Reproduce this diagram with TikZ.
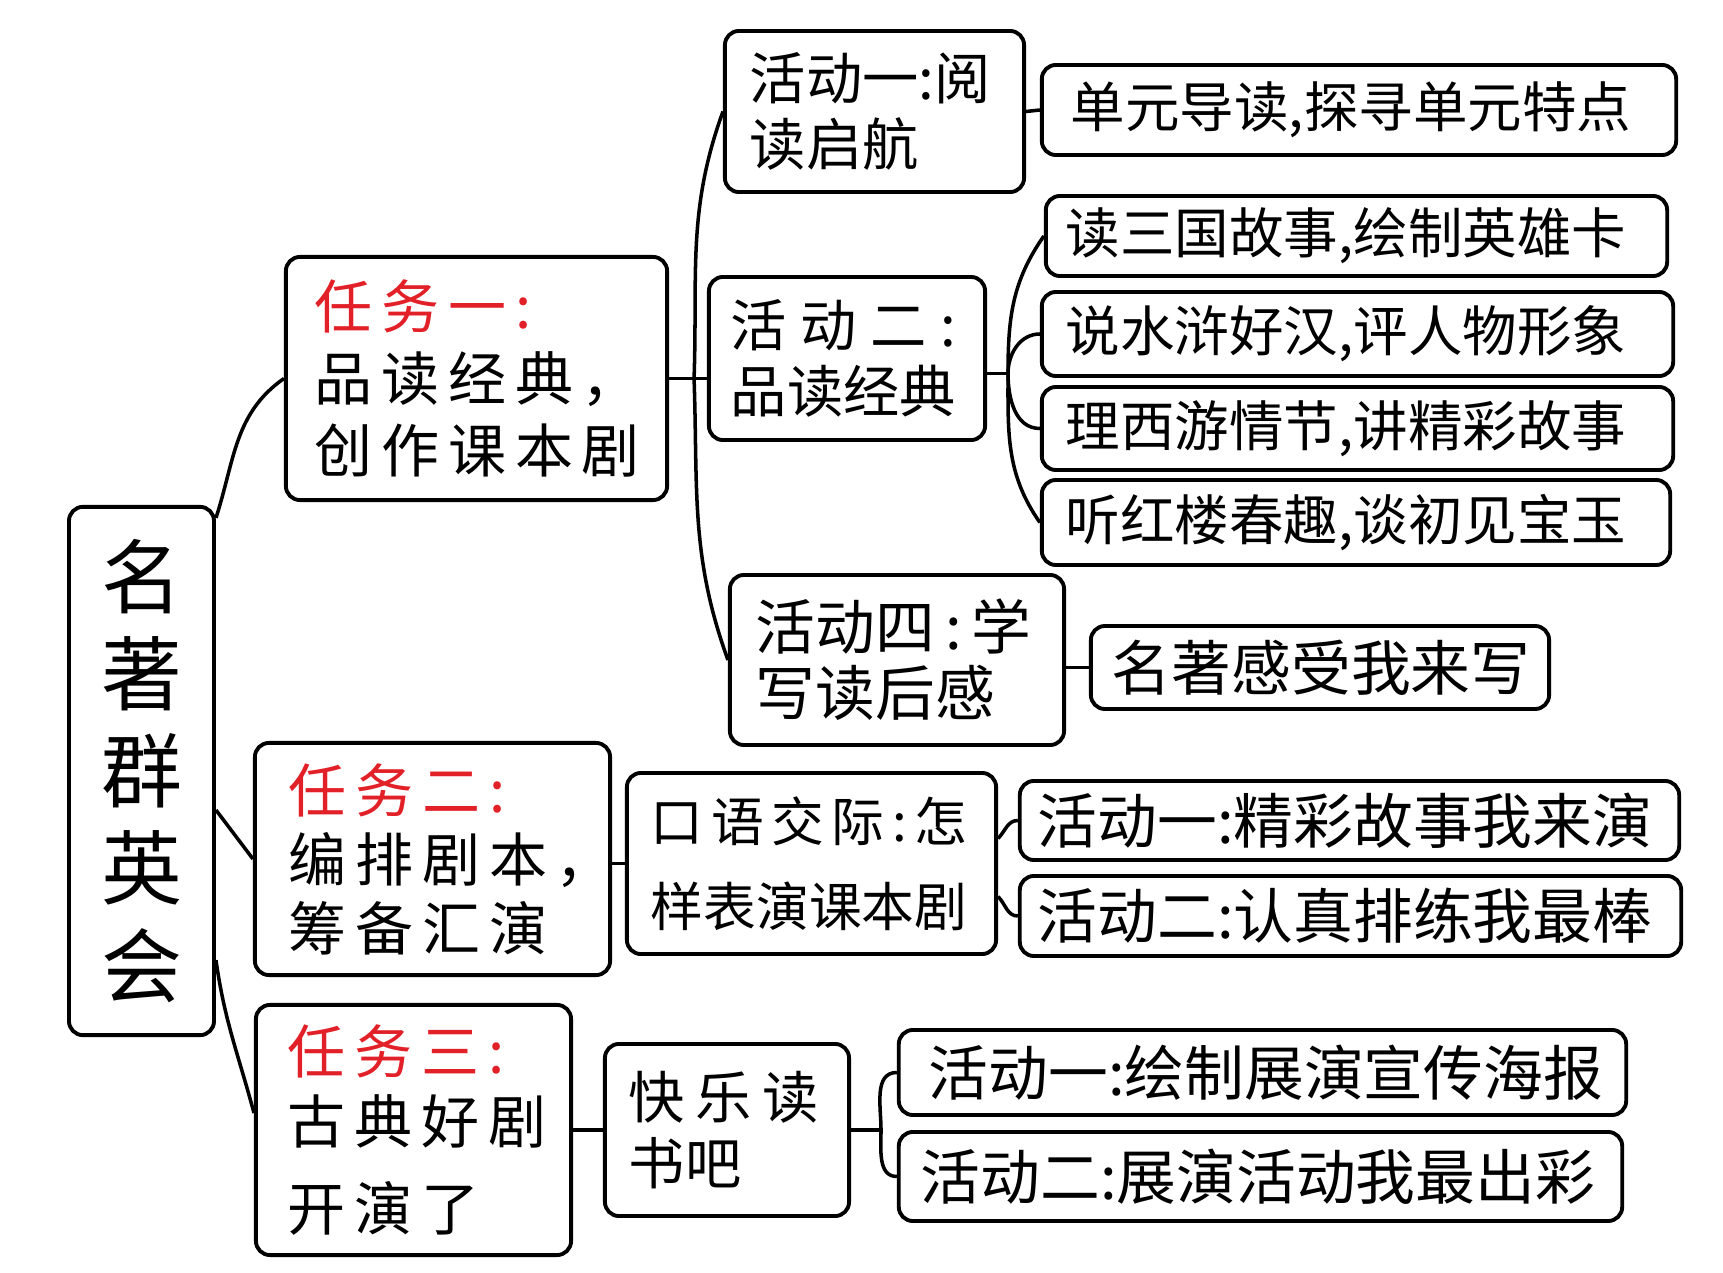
\documentclass[tikz,border=0pt]{standalone}
\usepackage{fontspec}
\setmainfont{Noto Sans CJK SC}
\newfontfamily\taskfont[LetterSpace=15]{Noto Sans CJK SC}
\definecolor{tred}{RGB}{226,32,40}
\begin{document}
\begin{tikzpicture}[x=0.01cm,y=-0.01cm,
  box/.style={draw, line width=1.1pt, rounded corners=4pt, align=left, inner ysep=0pt},
  con/.style={line width=1pt},
  tfont/.style={font=\taskfont\fontsize{16.5}{20.5}\selectfont},
  leaf/.style={font=\fontsize{15.5}{18}\selectfont},
  leafb/.style={font=\fontsize{17}{20}\selectfont}]
\path[use as bounding box] (0,0) rectangle (1723,1273);

% root
\node[box, align=center, minimum width=1.45cm, minimum height=5.28cm, text width=1.2cm, inner xsep=0.12cm,
  font=\fontsize{23}{27.6}\selectfont] (root) at (141.5,771) {名\\著\\群\\英\\会};

% tasks
\node[box, tfont, minimum width=3.81cm, minimum height=2.43cm, text width=3.23cm, inner xsep=0.29cm] (task1) at (476.5,378.5)
  {{\color{tred}任务一:}\\品读经典，\\创作课本剧};
\node[box, font=\taskfont\fontsize{16.5}{19.6}\selectfont, minimum width=3.55cm, minimum height=2.32cm, text width=2.87cm, inner xsep=0.34cm] (task2) at (432.5,859)
  {{\color{tred}任务二:}\\编排剧本，\\筹备汇演};
\node[box, font=\taskfont\fontsize{16.5}{19.9}\selectfont, minimum width=3.15cm, minimum height=2.50cm, text width=2.51cm, inner xsep=0.32cm] (task3) at (413.5,1130)
  {{\color{tred}任务三:}\\古典好剧\\[4.8pt]开演了};

% activities of task 1
\node[box, font=\fontsize{16}{18.8}\selectfont, minimum width=2.99cm, minimum height=1.61cm, text width=2.49cm, inner xsep=0.25cm] (act1) at (874.5,111.5)
  {活动一:阅\\读启航};
\node[box, font=\fontsize{16}{18.8}\selectfont, minimum width=2.76cm, minimum height=1.63cm, text width=2.32cm, inner xsep=0.22cm] (act2) at (847,358.5)
  {\makebox[2.25cm][s]{活\hfil 动\hfil 二\hfil :}\\品读经典};
\node[box, font=\fontsize{17}{18.8}\selectfont, minimum width=3.34cm, minimum height=1.70cm, text width=2.82cm, inner xsep=0.26cm] (act4) at (897,660)
  {活动四\,:\,学\\写读后感};

% leaves of task 1
\node[box, leaf, minimum width=6.34cm, minimum height=0.90cm, text width=5.76cm, inner xsep=0.29cm] (la) at (1359,110) {单元导读,探寻单元特点};
\node[box, leaf, minimum width=6.21cm, minimum height=0.80cm, text width=5.81cm, inner xsep=0.20cm] (lb) at (1356.5,236) {读三国故事,绘制英雄卡};
\node[box, leaf, minimum width=6.31cm, minimum height=0.84cm, text width=5.83cm, inner xsep=0.24cm] (lc) at (1357.5,334) {说水浒好汉,评人物形象};
\node[box, leaf, minimum width=6.31cm, minimum height=0.83cm, text width=5.83cm, inner xsep=0.24cm] (ld) at (1357.5,428.5) {理西游情节,讲精彩故事};
\node[box, leaf, minimum width=6.28cm, minimum height=0.85cm, text width=5.80cm, inner xsep=0.24cm] (le) at (1356,522.5) {听红楼春趣,谈初见宝玉};
\node[box, leafb, minimum width=4.58cm, minimum height=0.83cm, text width=4.16cm, inner xsep=0.21cm] (lf) at (1320,667.5) {名著感受我来写};

% task 2
\node[box, font=\fontsize{15}{24.2}\selectfont, minimum width=3.69cm, minimum height=1.81cm, text width=3.21cm, inner xsep=0.24cm] (oral) at (811.5,863.5)
  {\makebox[3.16cm][s]{口\hfil 语\hfil 交\hfil 际\hfil :\hfil 怎}\\样表演课本剧};
\node[box, leafb, minimum width=6.59cm, minimum height=0.79cm, text width=6.23cm, inner xsep=0.18cm] (ga) at (1349.5,820.5) {活动一:精彩故事我来演};
\node[box, leafb, minimum width=6.61cm, minimum height=0.80cm, text width=6.25cm, inner xsep=0.18cm] (gb) at (1350.5,916) {活动二:认真排练我最棒};

% task 3
\node[box, font=\fontsize{16}{18.8}\selectfont, minimum width=2.44cm, minimum height=1.72cm, text width=1.96cm, inner xsep=0.24cm] (book) at (727,1130)
  {\makebox[1.90cm][s]{快\hfil 乐\hfil 读}\\书吧};
\node[box, leafb, minimum width=7.27cm, minimum height=0.85cm, text width=6.67cm, inner xsep=0.30cm] (ha) at (1262.5,1072.5) {活动一:绘制展演宣传海报};
\node[box, leafb, minimum width=7.23cm, minimum height=0.89cm, text width=6.79cm, inner xsep=0.22cm] (hb) at (1260.5,1176.5) {活动二:展演活动我最出彩};

% connection points
\coordinate (r1) at ([yshift=2.53cm]root.east);
\coordinate (r2) at ([yshift=-0.39cm]root.east);
\coordinate (r3) at ([yshift=-1.89cm]root.east);
\coordinate (t3) at ([yshift=0.17cm]task3.west);
\coordinate (j1) at ([xshift=0.25cm]task1.east);
\coordinate (a2) at ([yshift=-0.15cm]act2.east);
\coordinate (j2) at ([xshift=0.21cm]a2);
\coordinate (o1) at ([yshift=0.25cm]oral.east);
\coordinate (o2) at ([yshift=-0.33cm]oral.east);
\coordinate (j3) at ([xshift=0.30cm]book.east);

% connectors
\draw[con] (r1) to[out=72,in=215] (task1.west);
\draw[con] (r2) -- (task2.west);
\draw[con] (r3) to[out=-82,in=105] (t3);

\draw[con] (task1.east) -- (act2.west |- task1.east);
\draw[con] (j1) to[out=88,in=-110] (act1.west);
\draw[con] (j1) to[out=-88,in=110] (act4.west);

\draw[con] (act1.east) -- (la.west);
\draw[con] (a2) -- (j2);
\draw[con] (j2) to[out=90,in=-125] (lb.west);
\draw[con] (j2) to[out=90,in=180] (lc.west);
\draw[con] (j2) to[out=-90,in=180] (ld.west);
\draw[con] (j2) to[out=-90,in=125] (le.west);
\draw[con] (act4.east |- lf.west) -- (lf.west);

\draw[con] (task2.east |- oral.west) -- (oral.west);
\draw[con] (o1) to[out=45,in=180] (ga.west);
\draw[con] (o2) to[out=-45,in=180] (gb.west);

\draw[con] (task3.east) -- (book.west);
\draw[con] (book.east) -- (j3);
\draw[con] (j3) to[out=90,in=180] (ha.west);
\draw[con] (j3) to[out=-90,in=180] (hb.west);
\end{tikzpicture}
\end{document}
